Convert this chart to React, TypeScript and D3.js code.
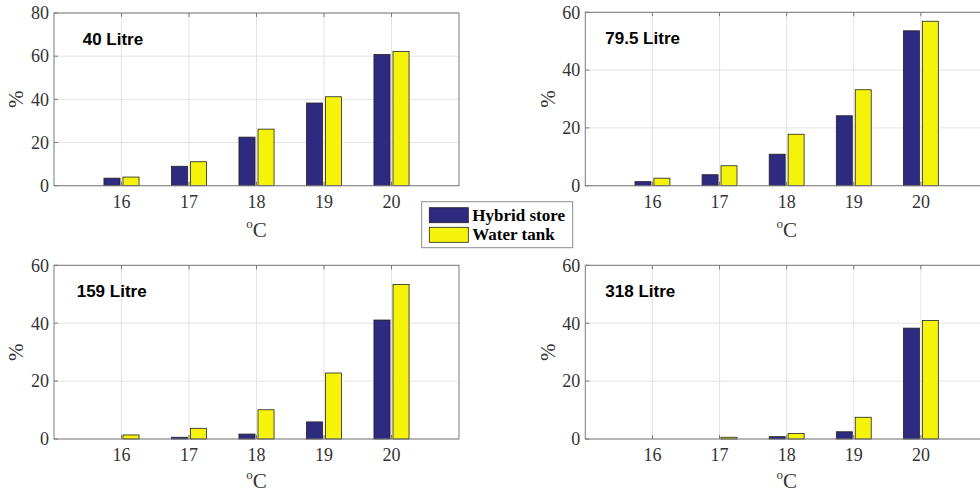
import React from "react";
import * as d3 from "d3";

const temps = [16, 17, 18, 19, 20];
const seriesNames = ["Hybrid store", "Water tank"];
const titles = ["40 Litre", "79.5 Litre", "159 Litre", "318 Litre"];
const hybrid40 = [3.5, 9.0, 22.5, 38.3, 60.8];
const water40 = [4.0, 11.1, 26.2, 41.2, 62.2];
const hybrid79 = [1.4, 3.8, 10.9, 24.2, 53.6];
const water79 = [2.6, 6.9, 17.8, 33.2, 56.9];
const hybrid159 = [0, 0.6, 1.7, 5.9, 41.1];
const water159 = [1.4, 3.7, 10.1, 22.8, 53.4];
const hybrid318 = [0, 0, 0.8, 2.5, 38.3];
const water318 = [0, 0.6, 1.9, 7.5, 40.9];
const yMaxes = [80, 60, 60, 60];
const yTicks80 = [0, 20, 40, 60, 80];
const yTicks60 = [0, 20, 40, 60];

const COLORS = ["#2e2a80", "#f6f30a"];

type Panel = {
  left: number; right: number; top: number; bottom: number;
  title: string; titleX: number; ymax: number; ticks: number[];
  a: number[]; b: number[]; xlabOff: number;
};

const panels: Panel[] = [
  { left: 54, right: 459, top: 13, bottom: 185.7, title: titles[0], titleX: 82.7, ymax: yMaxes[0], ticks: yTicks80, a: hybrid40, b: water40, xlabOff: 51 },
  { left: 585.3, right: 988, top: 12.3, bottom: 185.7, title: titles[1], titleX: 605.3, ymax: yMaxes[1], ticks: yTicks60, a: hybrid79, b: water79, xlabOff: 51 },
  { left: 54, right: 459, top: 265.3, bottom: 439, title: titles[2], titleX: 76.7, ymax: yMaxes[2], ticks: yTicks60, a: hybrid159, b: water159, xlabOff: 48.5 },
  { left: 585.3, right: 988, top: 265.3, bottom: 439, title: titles[3], titleX: 605.3, ymax: yMaxes[3], ticks: yTicks60, a: hybrid318, b: water318, xlabOff: 48.5 },
];

const serif = "'Liberation Serif', 'Times New Roman', serif";
const sans = "'Liberation Sans', Arial, sans-serif";

function PanelView({ p }: { p: Panel }) {
  const x = d3.scaleLinear().domain([15, 21]).range([p.left, p.right]);
  const y = d3.scaleLinear().domain([0, p.ymax]).range([p.bottom, p.top]);
  const unit = x(1) - x(0);
  const bw = 0.238 * unit;
  const off = 0.141 * unit;
  const cx = (p.left + p.right) / 2;
  const cy = (p.top + p.bottom) / 2;
  return (
    <g>
      <rect x={p.left} y={p.top} width={p.right - p.left} height={p.bottom - p.top} fill="#fff" />
      {temps.map((t) => (
        <line key={"gx" + t} x1={x(t)} x2={x(t)} y1={p.top} y2={p.bottom} stroke="#e3e3e3" strokeWidth={1} />
      ))}
      {p.ticks.map((v) => (
        <line key={"gy" + v} x1={p.left} x2={p.right} y1={y(v)} y2={y(v)} stroke="#e3e3e3" strokeWidth={1} />
      ))}
      {temps.map((t, i) => (
        <g key={"b" + t}>
          {p.a[i] > 0 && (
            <rect x={x(t) - off - bw / 2} y={y(p.a[i])} width={bw} height={p.bottom - y(p.a[i])} fill={COLORS[0]} stroke="#222" strokeWidth={0.8} />
          )}
          {p.b[i] > 0 && (
            <rect x={x(t) + off - bw / 2} y={y(p.b[i])} width={bw} height={p.bottom - y(p.b[i])} fill={COLORS[1]} stroke="#222" strokeWidth={0.8} />
          )}
        </g>
      ))}
      <rect x={p.left} y={p.top} width={p.right - p.left} height={p.bottom - p.top} fill="none" stroke="#7a7a7a" strokeWidth={1} />
      {temps.map((t) => (
        <g key={"tx" + t}>
          <line x1={x(t)} x2={x(t)} y1={p.bottom} y2={p.bottom - 4} stroke="#7a7a7a" />
          <line x1={x(t)} x2={x(t)} y1={p.top} y2={p.top + 4} stroke="#7a7a7a" />
          <text x={x(t)} y={p.bottom + 22} textAnchor="middle" fontFamily={serif} fontSize={18} fill="#333">{t}</text>
        </g>
      ))}
      {p.ticks.map((v) => (
        <g key={"ty" + v}>
          <line x1={p.left} x2={p.left + 4} y1={y(v)} y2={y(v)} stroke="#7a7a7a" />
          <text x={p.left - 5} y={y(v)} dy="0.35em" textAnchor="end" fontFamily={serif} fontSize={18} fill="#333">{v}</text>
        </g>
      ))}
      <text x={p.titleX} y={p.top + 31.5} fontFamily={sans} fontWeight="bold" fontSize={17} fill="#000">{p.title}</text>
      <text x={cx} y={p.bottom + p.xlabOff} textAnchor="middle" fontFamily={serif} fontSize={21} fill="#333">
        <tspan fontSize={13} dy={-9}>o</tspan>
        <tspan dy={9}>C</tspan>
      </text>
      <text transform={`translate(${p.left - 38},${cy}) rotate(-90)`} textAnchor="middle" dy="0.35em" fontFamily={serif} fontSize={21} fill="#333">%</text>
    </g>
  );
}

export default function App() {
  const legendX = 421.7, legendY = 201.7;
  return (
    <svg width={980} height={493} style={{ position: "absolute", left: 0, top: 0, background: "#fff" }}>
      <rect x={0} y={0} width={980} height={493} fill="#fff" />
      {panels.map((p, i) => (
        <PanelView key={i} p={p} />
      ))}
      <g>
        <rect x={legendX} y={legendY} width={151} height={46} fill="#fff" stroke="#8a8a8a" strokeWidth={1} />
        {seriesNames.map((s, i) => (
          <g key={s}>
            <rect x={legendX + 7.6} y={legendY + 6 + i * 19.6} width={39} height={15} fill={COLORS[i]} stroke="#222" strokeWidth={0.8} />
            <text x={legendX + 50.6} y={legendY + 19 + i * 19.6} fontFamily={serif} fontWeight="bold" fontSize={17} fill="#000">{s}</text>
          </g>
        ))}
      </g>
    </svg>
  );
}
